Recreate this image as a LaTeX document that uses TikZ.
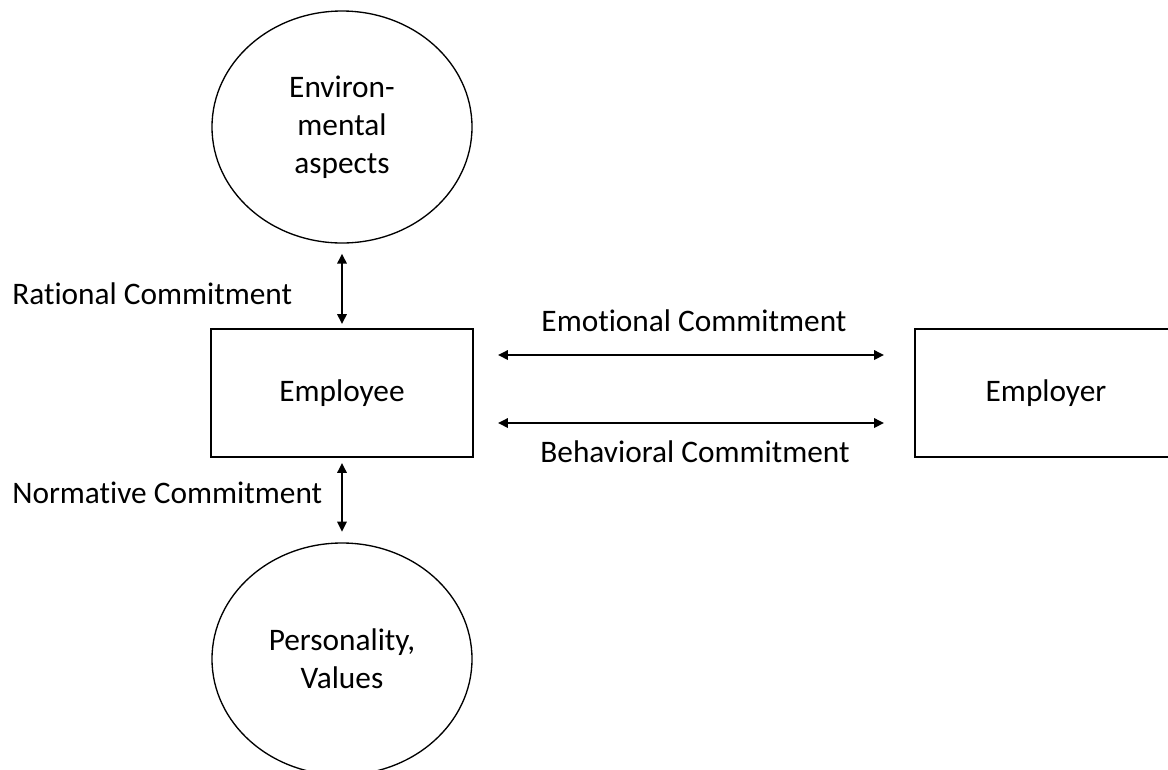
\documentclass[tikz,border=0pt]{standalone}
\usepackage{fontspec}
\setmainfont{Carlito}[Ligatures=NoCommon]
\usetikzlibrary{arrows.meta,shapes.geometric}

\begin{document}
\begin{tikzpicture}[x=0.75pt,y=0.75pt,yscale=-1,xscale=1,
  every node/.style={font=\fontsize{23.5}{28.5}\selectfont},
  oval/.style={draw,ellipse,line width=1pt,minimum width=195pt,minimum height=174pt,inner sep=0pt,align=center},
  box/.style={draw,line width=1.4pt,minimum width=196.5pt,minimum height=96pt,inner sep=0pt},
  dbl/.style={{Triangle[length=7.5pt,width=7pt]}-{Triangle[length=7.5pt,width=7pt]},line width=1.6pt}]
\useasboundingbox (0,0) rectangle (1168,769);

%Shape: Ellipse
\node [oval] (env) at (342,127) {Environ-\\mental\\aspects};
%Shape: Ellipse
\node [oval] (pers) at (342,659) {Personality,\\Values};

%Shape: Rectangle
\node [box] (emp) at (342,393) {Employee};
%Shape: Rectangle
\node [box] (empr) at (1046,393) {Employer};

\coordinate (emo) at (694,355);
\coordinate (beh) at (694,423);

%Straight Lines
\draw [dbl,shorten <=7.5pt,shorten >=3pt] (env.south) -- (emp.north);
\draw [dbl,shorten <=3.75pt,shorten >=8pt] (emp.south) -- (pers.north);
\draw [dbl,shorten <=18pt,shorten >=22.5pt] (emp.east |- emo) -- (empr.west |- emo);
\draw [dbl,shorten <=18pt,shorten >=22.5pt] (emp.east |- beh) -- (empr.west |- beh);

% Text Node
\node [anchor=base west,inner sep=0pt] (rat) at (12,304) {Rational Commitment};
% Text Node
\node [anchor=base west,inner sep=0pt] (norm) at (12,503) {Normative Commitment};
% Text Node
\node [anchor=base,inner sep=0pt] (emol) at (694,331) {Emotional Commitment};
% Text Node
\node [anchor=base,inner sep=0pt] (behl) at (695,462) {Behavioral Commitment};

\end{tikzpicture}
\end{document}
